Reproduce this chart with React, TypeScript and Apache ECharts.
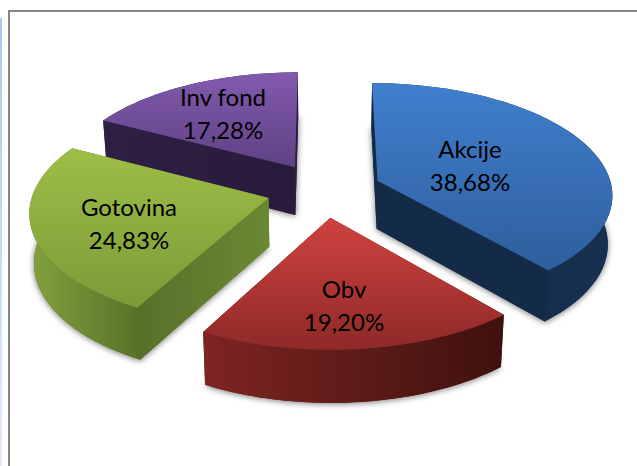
import React, { useEffect, useRef } from "react";
import * as echarts from "echarts";

const categories = ["Akcije", "Obv", "Gotovina", "Inv fond"];
const shareValues = [38.68, 19.2, 24.83, 17.28];
const percentLabels = ["38,68%", "19,20%", "24,83%", "17,28%"];
const topColors = [
  ["#3f7fce", "#2f5e9c"],
  ["#cf4240", "#8e2a28"],
  ["#9dbe47", "#7c9a38"],
  ["#825aae", "#5e4284"],
];
const rimColors = [
  ["#132a46", "#17304f"],
  ["#7e2522", "#3e110e"],
  ["#82a23c", "#58712a"],
  ["#2f2045", "#2b1d40"],
];
const wallColors = [
  ["#142b47", "#142b47"],
  ["#5e1a18", "#5e1a18"],
  ["#57702a", "#6a8933"],
  ["#2e2043", "#281a3b"],
];
const labelSpots = [
  [470, 165],
  [344, 305],
  [129, 223],
  [223, 113],
];
const drawOrder = [3, 0, 2, 1];

const CX = 324, CY = 190, RX = 235, RY = 110.5, PERSP = 0.1126, EXPLODE = 0.245;

function project(wx: number, wy: number, low: boolean): number[] {
  const s = 1 / (1 + PERSP * wy);
  let x = CX + RX * wx * s;
  let y = CY - RY * wy * s;
  if (low) {
    x = CX + (x - CX) * 0.984;
    y += 48.5 - 3.7 * wy;
  }
  return [x, y];
}

function App() {
  const ref = useRef<HTMLDivElement>(null);
  useEffect(() => {
    const chart = echarts.init(ref.current!, null, { renderer: "svg" });
    const total = shareValues.reduce((a, b) => a + b, 0);
    let acc = 0;
    const spans = shareValues.map((v) => {
      const a0 = (acc / total) * Math.PI * 2;
      acc += v;
      return [a0, (acc / total) * Math.PI * 2];
    });
    const grad = (c: string[], horizontal: boolean) =>
      new echarts.graphic.LinearGradient(0, 0, horizontal ? 1 : 0, horizontal ? 0 : 1, [
        { offset: 0, color: c[0] },
        { offset: 1, color: c[1] },
      ]);
    const renderItem = (params: any) => {
      const i = drawOrder[params.dataIndex];
      const [a0, a1] = spans[i];
      const mid = (a0 + a1) / 2;
      const ox = EXPLODE * Math.sin(mid);
      const oy = EXPLODE * Math.cos(mid);
      const steps = 48;
      const up: number[][] = [];
      const down: number[][] = [];
      for (let k = 0; k <= steps; k++) {
        const a = a0 + ((a1 - a0) * k) / steps;
        const wx = ox + Math.sin(a);
        const wy = oy + Math.cos(a);
        up.push(project(wx, wy, false));
        down.push(project(wx, wy, true));
      }
      const apexUp = project(ox, oy, false);
      const apexDown = project(ox, oy, true);
      const poly = (points: number[][], style: any) => ({ type: "polygon", shape: { points }, style });
      const startWall = poly([apexUp, up[0], down[0], apexDown], { fill: grad(wallColors[i], true) });
      const endWall = poly([apexUp, up[steps], down[steps], apexDown], { fill: grad(wallColors[i], true) });
      const startSeen = Math.sin(a0) < 0.01;
      const endSeen = Math.sin(a1) > -0.01;
      return {
        type: "group",
        children: [
          poly([apexDown, ...down], {
            fill: wallColors[i][0],
            shadowBlur: 6,
            shadowColor: "rgba(0,0,0,0.55)",
            shadowOffsetX: 0,
            shadowOffsetY: 1,
          }),
          ...(startSeen ? [] : [startWall]),
          ...(endSeen ? [] : [endWall]),
          poly([...up, ...down.slice().reverse()], { fill: grad(rimColors[i], true) }),
          ...(startSeen ? [startWall] : []),
          ...(endSeen ? [endWall] : []),
          poly([apexUp, ...up], { fill: grad(topColors[i], false) }),
          {
            type: "text",
            x: labelSpots[i][0],
            y: labelSpots[i][1],
            style: {
              text: categories[i] + "\n" + percentLabels[i],
              fill: "#000000",
              font: '24px Lato, "Noto Sans", sans-serif',
              lineHeight: 33,
              align: "center",
              verticalAlign: "middle",
            },
          },
        ],
      };
    };
    chart.setOption({
      animation: false,
      backgroundColor: "#ffffff",
      graphic: [
        {
          type: "rect",
          shape: { x: 0, y: 18, width: 2, height: 448 },
          style: {
            fill: new echarts.graphic.LinearGradient(0, 0, 0, 1, [
              { offset: 0, color: "#a9c8f0" },
              { offset: 1, color: "#e2ecfa" },
            ]),
          },
        },
        { type: "rect", shape: { x: 8, y: 10, width: 629, height: 2 }, style: { fill: "#858585" } },
        { type: "rect", shape: { x: 8, y: 10, width: 2, height: 456 }, style: { fill: "#858585" } },
      ],
      series: [
        {
          type: "custom",
          coordinateSystem: "none",
          renderItem,
          data: drawOrder.map((i) => shareValues[i]),
          silent: true,
          z: 5,
        },
      ],
    });
    return () => chart.dispose();
  }, []);
  return <div ref={ref} style={{ position: "fixed", left: 0, top: 0, width: 637, height: 466 }} />;
}

export default App;
